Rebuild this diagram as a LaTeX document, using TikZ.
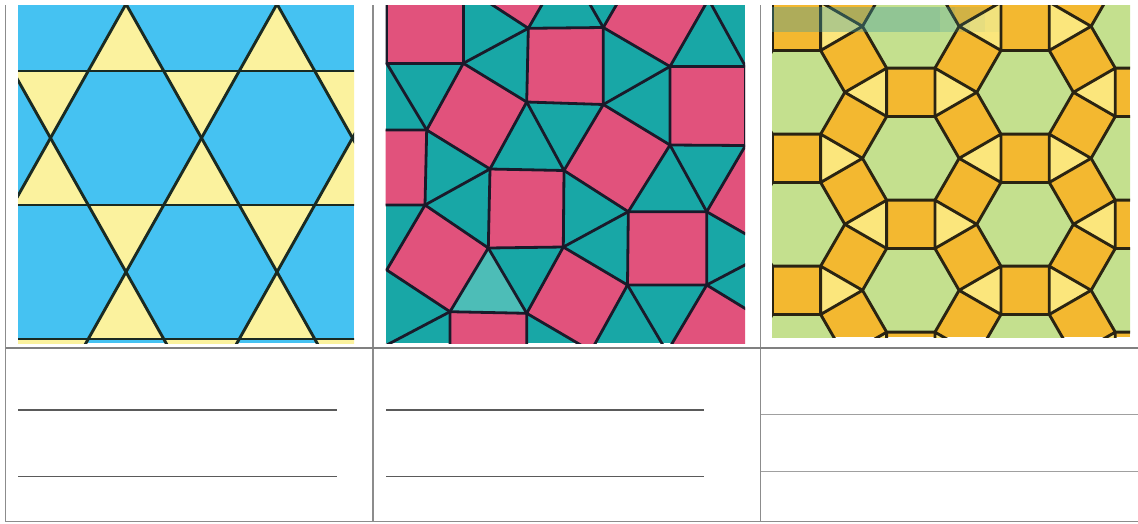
\documentclass[tikz,border=0pt]{standalone}
\definecolor{kbluec}{HTML}{45C2F2}
\definecolor{kyellowc}{HTML}{FBF29E}
\definecolor{klinec}{HTML}{1A2A22}
\definecolor{spinkc}{HTML}{E1527C}
\definecolor{stealc}{HTML}{18A7A6}
\definecolor{sltealc}{HTML}{4DBDB7}
\definecolor{slinec}{HTML}{1A1A2A}
\definecolor{rgreenc}{HTML}{C4E08E}
\definecolor{rorangec}{HTML}{F3B830}
\definecolor{ryellowc}{HTML}{FBE67C}
\definecolor{rlinec}{HTML}{2A2412}
\definecolor{bandc}{HTML}{3F9AA0}
\definecolor{tgrayc}{HTML}{8C8C8C}
\definecolor{wlinec}{HTML}{5A5A5A}
\definecolor{wlightc}{HTML}{A0A0A0}
\tikzset{
  kedge/.style={draw=klinec, line width=2.9pt},
  sedge/.style={draw=slinec, line width=2.8pt, line join=round, line cap=round},
  sqr/.style={fill=spinkc, draw=slinec, line width=2.8pt, line join=round},
  redge/.style={draw=rlinec, line width=2.9pt, line join=round},
  tableline/.style={draw=tgrayc, line width=1.1pt},
  writeline/.style={draw=wlinec, line width=1.8pt},
  writelight/.style={draw=wlightc, line width=1pt},
}
\begin{document}
\begin{tikzpicture}[x=1pt,y=-1pt]
\useasboundingbox (0,0) rectangle (1138,523);
\fill[white] (0,0) rectangle (1138,523);

% ---------- Tiling 1: trihexagonal ----------
\begin{scope}
\clip (18,5) rectangle (354,343);
\fill[kbluec] (18,5) rectangle (354,343);
\foreach \r in {0,1,2,3}{
  \foreach \n in {-1,...,3}{
    \pgfmathsetmacro{\xc}{126-75.5*mod(\r,2)+151*\n}
    \pgfmathsetmacro{\yc}{4+134*\r}
    \fill[kyellowc] (\xc-37.75,\yc-67) -- (\xc+37.75,\yc-67) -- (\xc,\yc) -- cycle;
    \fill[kyellowc] (\xc,\yc) -- (\xc-37.75,\yc+67) -- (\xc+37.75,\yc+67) -- cycle;
  }
}
\foreach \k in {0,1,2}{
  \draw[kedge] (0,71+134*\k) -- (380,71+134*\k);
}
\foreach \n in {-2,...,4}{
  \draw[kedge] (126+151*\n+75.5,-130) -- (126+151*\n-302,540);
}
\foreach \n in {-3,...,3}{
  \draw[kedge] (126+151*\n-75.5,-130) -- (126+151*\n+302,540);
}
\end{scope}

% ---------- Tiling 2: snub square ----------
\begin{scope}
\clip (385.5,5) rectangle (745,343);
\fill[stealc] (385.5,5) rectangle (745,343);
\coordinate (P1) at (386.7,63.3);
\coordinate (V1) at (463.3,63.3);
\coordinate (V2) at (528.3,28.3);
\coordinate (V6) at (603.3,27.5);
\coordinate (V7) at (670,66.5);
\coordinate (V3) at (526.7,102);
\coordinate (V9) at (603.3,104.5);
\coordinate (V4) at (426.7,130);
\coordinate (V5) at (490,169);
\coordinate (V13) at (564,170.5);
\coordinate (V8) at (670,145);
\coordinate (P2) at (745.5,66.5);
\coordinate (P3) at (745.5,145.5);
\coordinate (V10) at (488.3,248);
\coordinate (V11) at (563.3,247);
\coordinate (V12) at (628.3,211.7);
\coordinate (V14) at (706.7,211.7);
\coordinate (Q1) at (425,205);
\coordinate (Q2) at (386.7,270);
\coordinate (Q3) at (450,311.7);
\coordinate (Q4) at (526.7,313.3);
\coordinate (Q5) at (627.5,285);
\coordinate (Q6) at (706.7,285);
\coordinate (Q7) at (591,351);
\coordinate (Q8) at (667,352);
\coordinate (MB) at (773.4,250);
\coordinate (AT) at (463.3,-14);
\coordinate (ST) at (566,-37);
\coordinate (ET) at (708.5,-0.7);
\fill[sltealc] (V10) -- (Q3) -- (Q4) -- cycle;
% squares
\filldraw[sqr] (386.7,-14) -- (AT) -- (V1) -- (P1) -- cycle;
\filldraw[sqr] (V2) -- (AT) -- (500.9,-79.3) -- (ST) -- cycle;
\filldraw[sqr] (V2) -- (V6) -- (V9) -- (V3) -- cycle;
\filldraw[sqr] (V1) -- (V3) -- (V5) -- (V4) -- cycle;
\filldraw[sqr] (350,130) -- (V4) -- (Q1) -- (350,205) -- cycle;
\filldraw[sqr] (V6) -- (V7) -- (ET) -- (641.8,-39) -- cycle;
\filldraw[sqr] (V7) -- (P2) -- (P3) -- (V8) -- cycle;
\filldraw[sqr] (V9) -- (V8) -- (V12) -- (V13) -- cycle;
\filldraw[sqr] (V5) -- (V13) -- (V11) -- (V10) -- cycle;
\filldraw[sqr] (Q1) -- (V10) -- (Q3) -- (Q2) -- cycle;
\filldraw[sqr] (Q3) -- (Q4) -- (527,390) -- (450,390) -- cycle;
\filldraw[sqr] (V11) -- (Q5) -- (Q7) -- (Q4) -- cycle;
\filldraw[sqr] (V12) -- (V14) -- (Q6) -- (Q5) -- cycle;
\filldraw[sqr] (V14) -- (P3) -- (811.7,183.3) -- (MB) -- cycle;
\filldraw[sqr] (Q6) -- (Q8) -- (732,390) -- (771.7,324.7) -- cycle;
% triangle-triangle edges
\draw[sedge] (V1) -- (V2);
\draw[sedge] (P1) -- (V4);
\draw[sedge] (V3) -- (V13);
\draw[sedge] (V9) -- (V7);
\draw[sedge] (Q1) -- (V5);
\draw[sedge] (V11) -- (V12);
\draw[sedge] (V10) -- (Q4);
\draw[sedge] (V8) -- (V14);
\draw[sedge] (Q6) -- (MB);
\draw[sedge] (Q5) -- (Q8);
\draw[sedge] (Q3) -- (378,349.6);
\draw[sedge] (V6) -- (ST);
\draw[sedge] (P2) -- (ET);
\end{scope}

% ---------- Tiling 3: rhombitrihexagonal ----------
\begin{scope}
\clip (772,5) rectangle (1130,337);
\fill[rorangec] (772,5) rectangle (1130,337);
\foreach \j in {-2,...,2}{
  \foreach \i in {-3,...,3}{
    \pgfmathsetmacro{\cx}{910.8+114.3*\j}
    \pgfmathsetmacro{\cy}{158.3+66*\j+132*\i}
    \fill[rgreenc] (\cx+48.3,\cy) -- (\cx+24.15,\cy-41.83) -- (\cx-24.15,\cy-41.83) -- (\cx-48.3,\cy) -- (\cx-24.15,\cy+41.83) -- (\cx+24.15,\cy+41.83) -- cycle;
    \fill[ryellowc] (\cx+48.3,\cy) -- (\cx+90.15,\cy-24.16) -- (\cx+90.15,\cy+24.16) -- cycle;
    \fill[ryellowc] (\cx-48.3,\cy) -- (\cx-90.15,\cy-24.16) -- (\cx-90.15,\cy+24.16) -- cycle;
  }
}
\foreach \j in {-2,...,2}{
  \foreach \i in {-3,...,3}{
    \pgfmathsetmacro{\cx}{910.8+114.3*\j}
    \pgfmathsetmacro{\cy}{158.3+66*\j+132*\i}
    \draw[redge] (\cx+48.3,\cy) -- (\cx+24.15,\cy-41.83) -- (\cx-24.15,\cy-41.83) -- (\cx-48.3,\cy) -- (\cx-24.15,\cy+41.83) -- (\cx+24.15,\cy+41.83) -- cycle;
    \draw[redge] (\cx+48.3,\cy) -- (\cx+90.15,\cy-24.16) -- (\cx+90.15,\cy+24.16) -- cycle;
    \draw[redge] (\cx-48.3,\cy) -- (\cx-90.15,\cy-24.16) -- (\cx-90.15,\cy+24.16) -- cycle;
  }
}
\fill[bandc, opacity=0.38] (772,7) rectangle (940,32);
\fill[bandc, opacity=0.28] (940,7) rectangle (955,32);
\fill[bandc, opacity=0.19] (955,7) rectangle (970,32);
\fill[bandc, opacity=0.11] (970,7) rectangle (985,32);
\fill[bandc, opacity=0.05] (985,7) rectangle (1000,32);
\end{scope}

% ---------- Table ----------
\draw[tableline] (5.5,5) -- (5.5,521.5);
\draw[tableline] (373,5) -- (373,521.5);
\draw[tableline] (760.5,5) -- (760.5,521.5);
\draw[tableline, line width=2pt, draw=gray] (5.5,348) -- (1138,348);
\draw[tableline] (5.5,521.5) -- (1138,521.5);

% writing lines
\draw[writeline] (18,410) -- (337,410);
\draw[writeline] (18,476.5) -- (337,476.5);
\draw[writeline] (386,410) -- (704,410);
\draw[writeline] (386,476.5) -- (704,476.5);
\draw[writelight] (760.5,414) -- (1138,414);
\draw[writelight] (760.5,471) -- (1138,471);
\end{tikzpicture}
\end{document}
